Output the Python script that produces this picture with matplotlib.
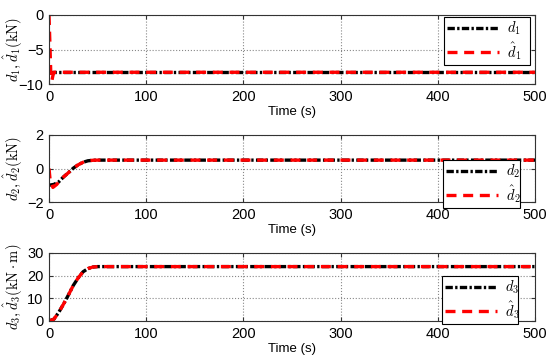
import matplotlib
matplotlib.use('Agg')
import matplotlib.pyplot as plt

plt.rcParams['font.family'] = ['Liberation Sans', 'DejaVu Sans']
plt.rcParams['mathtext.fontset'] = 'cm'

# d1 / estimate
t1 = [0, 500]
d1 = [-8.3, -8.3]
t1h = [0, 1, 2, 3, 4, 5, 500]
d1h = [0, -4.5, -9.3, -9.5, -8.8, -8.3, -8.3]

# d2 / estimate
t2 = [0, 5, 10, 15, 20, 25, 30, 35, 40, 45, 50, 500]
d2 = [-1.0, -0.95, -0.8, -0.5, -0.25, 0.02, 0.22, 0.37, 0.46, 0.49, 0.5, 0.5]
t2h = [0, 1, 4, 8, 10, 15, 20, 25, 30, 35, 40, 45, 50, 500]
d2h = [0, -0.6, -1.13, -0.95, -0.8, -0.5, -0.25, 0.02, 0.22, 0.37, 0.46, 0.49, 0.5, 0.5]

# d3 / estimate
t3 = [0, 5, 10, 15, 20, 25, 30, 35, 40, 45, 50, 55, 500]
d3 = [0, 0.8, 3.8, 7.5, 11.5, 15.7, 19, 21.7, 23.1, 23.8, 24, 24, 24]
d3h = [0, 0.8, 3.8, 7.5, 11.5, 15.7, 19, 21.7, 23.1, 23.8, 24, 24, 24]

fig = plt.figure(figsize=(5.5, 3.64), dpi=100)
W, H = 550, 364
axes_px = [(15, 84), (135, 202), (253, 321)]
x0, x1 = 49, 535
# legend box corners in pixels (left, top, right, bottom)
leg_px = [(444, 23, 530, 59), (443, 166, 520, 202), (442, 282, 518, 318)]

panels = [
    (t1, d1, t1h, d1h, (-10, 0), [-10, -5, 0], r'$d_1,\hat{d}_1(\mathrm{kN})$', r'$d_1$', r'$\hat{d}_1$'),
    (t2, d2, t2h, d2h, (-2, 2), [-2, 0, 2], r'$d_2,\hat{d}_2(\mathrm{kN})$', r'$d_2$', r'$\hat{d}_2$'),
    (t3, d3, t3, d3h, (0, 30), [0, 10, 20, 30], r'$d_3,\hat{d}_3(\mathrm{kN}\cdot\mathrm{m})$', r'$d_3$', r'$\hat{d}_3$'),
]

for (top, bot), lp, p in zip(axes_px, leg_px, panels):
    ta, ya, tb, yb, ylim, yticks, ylab, la, lb = p
    ax = fig.add_axes([x0 / W, 1 - bot / H, (x1 - x0) / W, (bot - top) / H])
    ax.plot(ta, ya, color='black', linestyle=(0, (2.2, 0.7, 0.7, 0.7)), linewidth=2.4, label=la)
    ax.plot(tb, yb, color='red', linestyle=(0, (3.0, 2.0)), linewidth=2.4, label=lb)
    ax.set_xlim(0, 500)
    ax.set_ylim(*ylim)
    ax.set_xticks([0, 100, 200, 300, 400, 500])
    ax.set_yticks(yticks)
    ax.grid(True, linestyle=':', color='#888888', linewidth=0.8)
    ax.tick_params(direction='in', labelsize=10.5, length=3, pad=4,
                   top=True, right=True, color='#333333')
    ax.set_xlabel('Time (s)', fontsize=9.5, labelpad=2)
    ax.set_ylabel(ylab, fontsize=10.5)
    ax.yaxis.set_label_coords(-0.05, 0.5)
    for s in ax.spines.values():
        s.set_linewidth(0.8)
        s.set_color('#333333')
    # place legend box by its pixel extent
    bx0 = (lp[0] - x0) / (x1 - x0)
    by0 = (bot - lp[3]) / (bot - top)
    bw = (lp[2] - lp[0]) / (x1 - x0)
    bh = (lp[3] - lp[1]) / (bot - top)
    leg = ax.legend(loc='center', bbox_to_anchor=(bx0, by0, bw, bh), mode='expand',
                    fontsize=10.5, fancybox=False, edgecolor='black', framealpha=1,
                    handlelength=3.6, borderpad=0.2, labelspacing=0.2,
                    borderaxespad=0, handletextpad=0.5)
    leg.get_frame().set_linewidth(0.8)

fig.savefig('out.png', dpi=100)
